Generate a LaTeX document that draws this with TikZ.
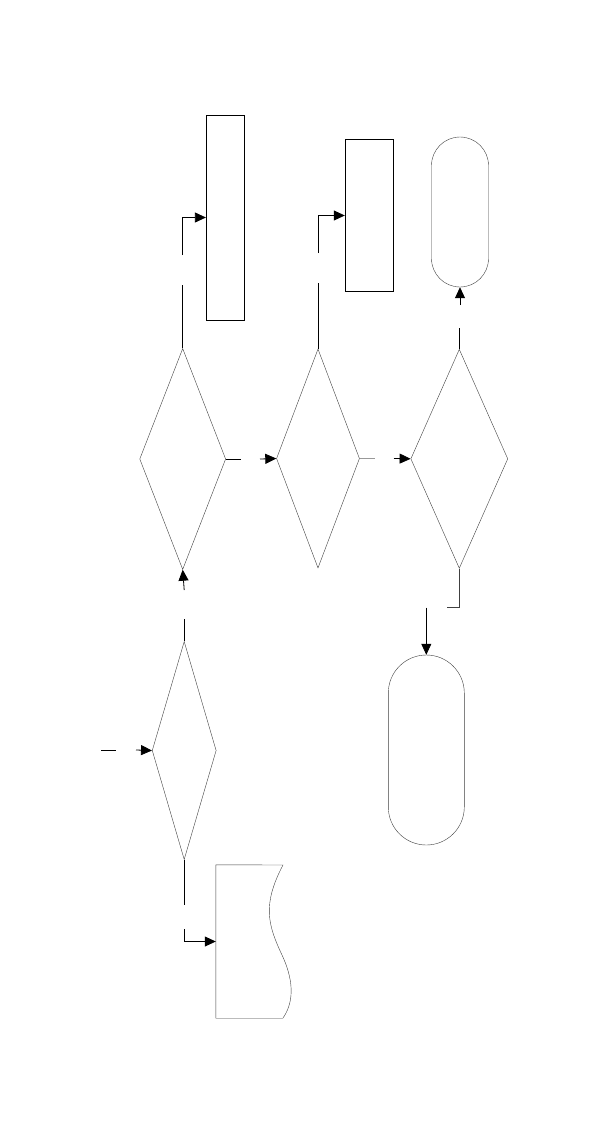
\documentclass[tikz,border=0pt]{standalone}
\usepackage{tikz}
\usetikzlibrary{arrows.meta,positioning,shapes.geometric}

\begin{document}
\begin{tikzpicture}[
    x=1pt, y=-1pt,
    decision/.style={draw, thin, black!75, diamond, inner sep=0pt},
    procbox/.style={draw, line width=0.8pt, rectangle, inner sep=0pt},
    termbox/.style={draw, thin, black!75, rectangle, inner sep=0pt},
    line/.style={line width=0.8pt},
    arr/.style={-{Triangle[length=11pt, width=10pt]}, line width=0.8pt},
]
\useasboundingbox[fill=white] (0,0) rectangle (601,1141);

% --- decisions ---
\node[decision, minimum width=64pt, minimum height=218pt] (decA) at (184.2, 750.5) {};
\node[decision, minimum width=86pt, minimum height=221pt] (decB) at (182.7, 459.0) {};
\node[decision, minimum width=83pt, minimum height=219pt] (decC) at (318.0, 458.5) {};
\node[decision, minimum width=97pt, minimum height=219pt] (decD) at (459.3, 458.8) {};

% --- boxes ---
\node[procbox, minimum width=38pt, minimum height=205pt] (boxA) at (225.3, 217.5) {};
\node[procbox, minimum width=48pt, minimum height=152pt] (boxB) at (369.2, 215.5) {};

% --- terminals ---
\node[termbox, minimum width=57pt, minimum height=150pt, rounded corners=28.5pt] (endA) at (460.0, 212.0) {};
\node[termbox, minimum width=76pt, minimum height=190pt, rounded corners=38pt] (endB) at (426.3, 750.0) {};

% --- document (wavy right side) ---
\node[minimum width=76pt, minimum height=153pt, inner sep=0pt] (doc) at (254, 941.5) {};
\draw[thin, black!75] (doc.south east -| 283,0) -- (doc.south west) -- (doc.north west) -- (283, 865)
    .. controls (262, 905) and (268, 925) .. (282, 955)
    .. controls (296, 985) and (292, 1005) .. (283, 1018);

% --- gap ends ---
\coordinate (inA) at (101, 750);
\coordinate (inB) at (116, 750);
\coordinate (inC) at (136, 750);
\coordinate (upA) at (184.2, 619);
\coordinate (upB) at (184.2, 590);
\coordinate (dnA) at (184.2, 905);
\coordinate (dnB) at (184.2, 929);
\coordinate (tpA) at (182.7, 285);
\coordinate (tpB) at (182.7, 255);
\coordinate (rtA) at (241, 459);
\coordinate (rtB) at (260, 459);
\coordinate (tcA) at (318.0, 283);
\coordinate (tcB) at (318.0, 253);
\coordinate (rcA) at (375, 458.5);
\coordinate (rcB) at (394, 458.5);
\coordinate (tdA) at (459.3, 328);
\coordinate (tdB) at (460.0, 305);
\coordinate (bdA) at (447, 607.5);
\coordinate (bdB) at (426.3, 607.5);

% --- connectors ---
\draw[line] (inA) -- (inB);
\draw[arr] (inC) -- (decA.west);
\draw[line] (decA.north) -- (upA);
\draw[arr] (upB) -- (decB.south);
\draw[line] (decA.south) -- (dnA);
\draw[arr] (dnB) |- (doc.west);
\draw[line] (decB.north) -- (tpA);
\draw[arr] (tpB) |- (boxA.west);
\draw[line] (decB.east) -- (rtA);
\draw[arr] (rtB) -- (decC.west);
\draw[line] (decC.north) -- (tcA);
\draw[arr] (tcB) |- (boxB.west);
\draw[line, black!40] (decC.east) -- (rcA);
\draw[arr] (rcB) -- (decD.west);
\draw[line] (decD.north) -- (tdA);
\draw[arr] (tdB) -- (endA.south);
\draw[line, black!75] (decD.south) |- (bdA);
\draw[arr] (bdB) -- (endB.north);
\end{tikzpicture}
\end{document}
